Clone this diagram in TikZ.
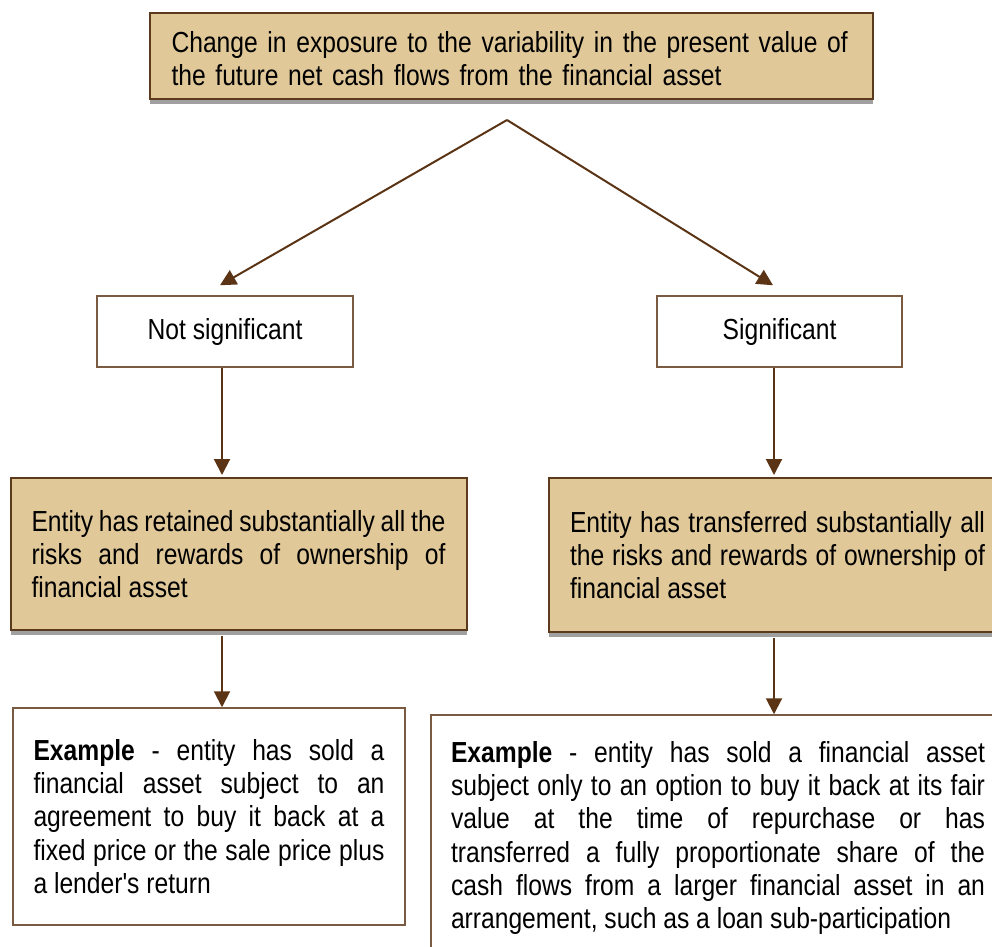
\documentclass[tikz,border=0pt]{standalone}
\usepackage{fontspec}
\setmainfont{Liberation Sans}[FakeStretch=0.85,Ligatures=TeXOff]
\usetikzlibrary{arrows.meta}
\definecolor{boxtan}{HTML}{E0C898}
\definecolor{boxedge}{HTML}{5C3A1C}
\definecolor{whiteedge}{HTML}{7A5A40}
\definecolor{shadowgray}{HTML}{A0A0A0}
\definecolor{arrowcol}{HTML}{5A3414}
\hyphenpenalty=10000
\exhyphenpenalty=10000
\emergencystretch=20pt
\begin{document}
\begin{tikzpicture}[x=1pt,y=-1pt,
  every node/.style={font=\fontsize{29}{33.3}\selectfont},
  tanbox/.style={draw=boxedge, line width=2pt, fill=boxtan, inner xsep=21pt, inner ysep=0pt, align=justify,
    preaction={fill=shadowgray, transform canvas={yshift=-5pt}}},
  whitebox/.style={draw=whiteedge, line width=1.5pt, fill=white, inner xsep=20pt, inner ysep=0pt},
  arr/.style={draw=arrowcol, line width=2pt, -{Triangle[width=16pt,length=16pt]}}
]
\useasboundingbox (0,0) rectangle (992,946);
\clip (0,0) rectangle (992,946);

\node[tanbox, text width=680pt, minimum width=723pt, minimum height=86pt, align=left, inner xsep=21.5pt] (top) at (511.5,56)
  {\rule{0pt}{26pt}Change in exposure to the variability in the present value of\\the future net cash flows from the financial asset};

\node[whitebox, minimum width=256pt, minimum height=71pt] (ns) at (225,331.5) {Not significant};
\node[whitebox, minimum width=245pt, minimum height=71pt] (sig) at (779.5,331.5) {Significant};

\node[tanbox, text width=414pt, minimum width=455pt, minimum height=152pt] (ret) at (238.5,554)
  {Entity has retained substantially all the\linebreak risks and rewards of ownership of\linebreak financial asset};
\node[tanbox, text width=415pt, minimum width=457pt, minimum height=154pt] (tra) at (777.5,555)
  {Entity has transferred substantially all\linebreak the risks and rewards of ownership of\linebreak financial asset};

\node[whitebox, text width=351pt, minimum width=392pt, minimum height=217pt, align=justify] (ex1) at (209,816.5)
  {\textbf{Example} - entity has sold a\linebreak financial asset subject to an\linebreak agreement to buy it back at a\linebreak fixed price or the sale price plus\linebreak a lender's return};
\node[whitebox, text width=534pt, minimum width=574pt, minimum height=246pt, align=justify] (ex2) at (718,838)
  {\textbf{Example} - entity has sold a financial asset\linebreak subject only to an option to buy it back at its fair\linebreak value at the time of repurchase or has\linebreak transferred a fully proportionate share of the\linebreak cash flows from a larger financial asset in an\linebreak arrangement, such as a loan sub-participation};

\coordinate (apex) at (507,120);
\coordinate (c1) at (222,0);
\coordinate (c2) at (774,0);

\draw[arr] (apex) -- ([shift={(-5pt,10pt)}]ns.north);
\draw[arr] (apex) -- ([shift={(-6.5pt,10pt)}]sig.north);
\draw[arr] (ns.south -| c1) -- ([yshift=2pt]ret.north -| c1);
\draw[arr] (sig.south -| c2) -- ([yshift=2pt]tra.north -| c2);
\draw[arr, shorten <=5pt] (ret.south -| c1) -- (ex1.north -| c1);
\draw[arr, shorten <=5pt] (tra.south -| c2) -- (ex2.north -| c2);
\end{tikzpicture}
\end{document}
